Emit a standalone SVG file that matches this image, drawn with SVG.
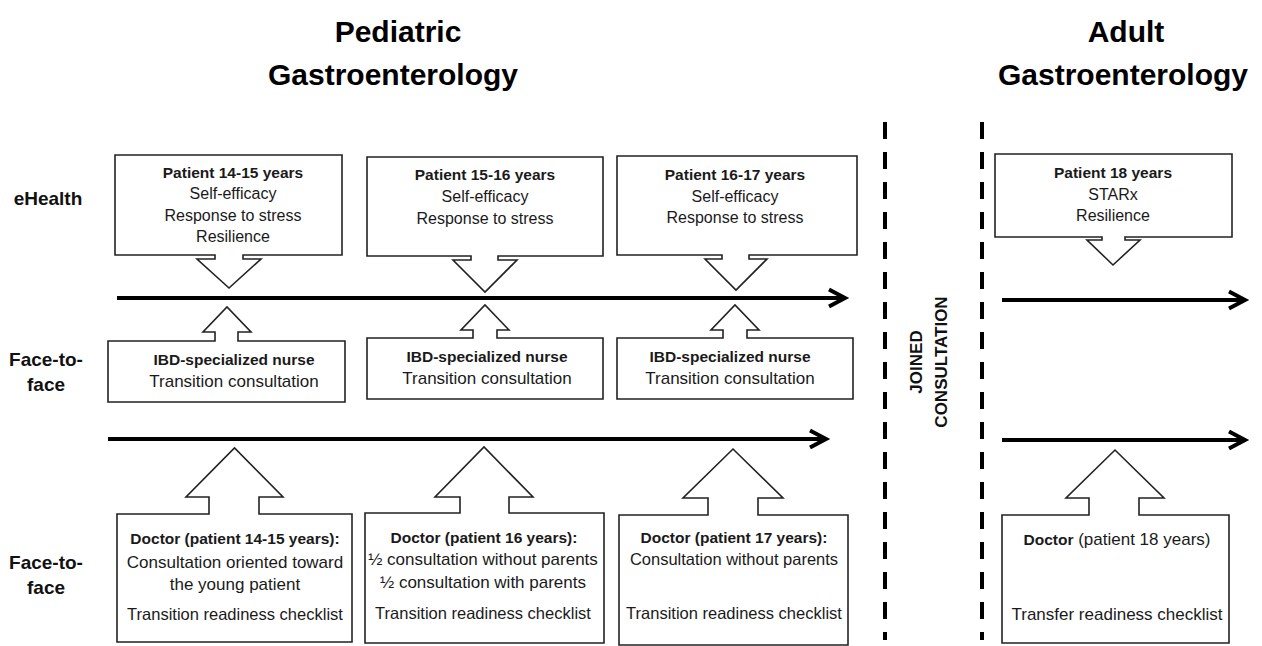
<svg xmlns="http://www.w3.org/2000/svg" width="1262" height="646" viewBox="0 0 1262 646">
<style>
.box{fill:#fff;stroke:#222;stroke-width:1.6;stroke-linejoin:miter}
.tl{stroke:#000;stroke-width:4;fill:none}
.dash{stroke:#000;stroke-width:4;stroke-dasharray:17 13;fill:none}
text{font-family:"Liberation Sans",Arial,sans-serif;fill:#1a1a1a;text-anchor:middle}
.b{font-weight:bold;font-size:15.5px}
.r16{font-size:16px}
.r17{font-size:17px}
.r165{font-size:16.5px}
.title{font-size:30px;font-weight:bold;fill:#000}
.lab{font-size:19px;font-weight:bold;fill:#111}
.vert{font-size:17px;font-weight:bold;fill:#111}
</style>
<defs>
<marker id="chev" markerUnits="userSpaceOnUse" markerWidth="24" markerHeight="24" refX="18" refY="11" orient="auto" overflow="visible">
<path d="M2,2.5 L18,11 L2,19.5" fill="none" stroke="#000" stroke-width="4" stroke-linejoin="miter"/>
</marker>
</defs>

<g id="titles">
<text class="title" x="398" y="42">Pediatric</text>
<text class="title" x="393" y="85">Gastroenterology</text>
<text class="title" x="1126" y="42">Adult</text>
<text class="title" x="1123" y="85">Gastroenterology</text>
</g>

<g id="row-labels">
<text class="lab" x="48" y="205">eHealth</text>
<text class="lab" x="46" y="366">Face-to-</text>
<text class="lab" x="46" y="391">face</text>
<text class="lab" x="46" y="569">Face-to-</text>
<text class="lab" x="46" y="594">face</text>
</g>

<g id="connectors">
<line class="tl" x1="117" y1="298" x2="845" y2="298" marker-end="url(#chev)"/>
<line class="tl" x1="108" y1="439" x2="826" y2="439" marker-end="url(#chev)"/>
<line class="tl" x1="1002" y1="300" x2="1245" y2="300" marker-end="url(#chev)"/>
<line class="tl" x1="1002" y1="440" x2="1245" y2="440" marker-end="url(#chev)"/>
<line class="dash" x1="885" y1="122" x2="885" y2="640"/>
<line class="dash" x1="982" y1="122" x2="982" y2="640"/>
</g>

<g id="joined">
<text class="vert" transform="translate(922,362) rotate(-90)">JOINED</text>
<text class="vert" transform="translate(947,362) rotate(-90)">CONSULTATION</text>
</g>

<g id="ehealth-1">
<path class="box" d="M115,155 H342 V255 H243 V259 H261 L229,288 L197,259 H215 V255 H115 Z"/>
<text class="b" x="233" y="178">Patient 14-15 years</text>
<text class="r16" x="233" y="199">Self-efficacy</text>
<text class="r16" x="233" y="221">Response to stress</text>
<text class="r16" x="233" y="242">Resilience</text>
</g>

<g id="ehealth-2">
<path class="box" d="M367,157 H603 V256 H498 V260 H517 L485,292 L453,260 H471 V256 H367 Z"/>
<text class="b" x="485" y="180">Patient 15-16 years</text>
<text class="r16" x="485" y="202">Self-efficacy</text>
<text class="r16" x="485" y="224">Response to stress</text>
</g>

<g id="ehealth-3">
<path class="box" d="M617,156 H857 V255 H749 V259 H767 L736,290 L705,259 H722 V255 H617 Z"/>
<text class="b" x="735" y="180">Patient 16-17 years</text>
<text class="r16" x="735" y="202">Self-efficacy</text>
<text class="r16" x="735" y="223">Response to stress</text>
</g>

<g id="ehealth-adult">
<path class="box" d="M995,154 H1232 V237 H1125 V240 H1140 L1113,265 L1087,240 H1102 V237 H995 Z"/>
<text class="b" x="1113" y="178">Patient 18 years</text>
<text class="r16" x="1113" y="200">STARx</text>
<text class="r16" x="1113" y="221">Resilience</text>
</g>

<g id="nurse-1">
<path class="box" d="M108,341 H215 V332 H203 L227,307 L251,332 H238 V341 H345 V402 H108 Z"/>
<text class="b" x="234" y="365">IBD-specialized nurse</text>
<text class="r17" x="234" y="387">Transition consultation</text>
</g>

<g id="nurse-2">
<path class="box" d="M367,338 H473 V330 H461 L485,305 L509,330 H497 V338 H603 V399 H367 Z"/>
<text class="b" x="487" y="362">IBD-specialized nurse</text>
<text class="r17" x="487" y="384">Transition consultation</text>
</g>

<g id="nurse-3">
<path class="box" d="M617,338 H723 V330 H711 L735,305 L759,330 H747 V338 H853 V399 H617 Z"/>
<text class="b" x="730" y="362">IBD-specialized nurse</text>
<text class="r17" x="730" y="384">Transition consultation</text>
</g>

<g id="doctor-1">
<path class="box" d="M117,514 H209 V497 H186 L234.5,448 L283,497 H259 V514 H352 V642 H117 Z"/>
<text class="b" x="235" y="544">Doctor (patient 14-15 years):</text>
<text class="r17" x="235" y="568">Consultation oriented toward</text>
<text class="r17" x="235" y="590">the young patient</text>
<text class="r165" x="235" y="620">Transition readiness checklist</text>
</g>

<g id="doctor-2">
<path class="box" d="M365,513 H460 V497 H435 L484,447 L533,497 H509 V513 H604 V643 H365 Z"/>
<text class="b" x="484" y="543">Doctor (patient 16 years):</text>
<text class="r17" x="483" y="565">½ consultation without parents</text>
<text class="r17" x="483" y="588">½ consultation with parents</text>
<text class="r165" x="483" y="619">Transition readiness checklist</text>
</g>

<g id="doctor-3">
<path class="box" d="M619,515 H708 V498 H683 L733,449 L783,498 H758 V515 H848 V645 H619 Z"/>
<text class="b" x="734" y="543">Doctor (patient 17 years):</text>
<text class="r165" x="734" y="565">Consultation without parents</text>
<text class="r165" x="734" y="619">Transition readiness checklist</text>
</g>

<g id="doctor-adult">
<path class="box" d="M1002,515 H1089 V498 H1066 L1115,450 L1164,498 H1139 V515 H1229 V643 H1002 Z"/>
<text class="r17" x="1117" y="545"><tspan font-weight="bold" font-size="15.5">Doctor</tspan> (patient 18 years)</text>
<text class="r17" x="1117" y="620">Transfer readiness checklist</text>
</g>
</svg>
